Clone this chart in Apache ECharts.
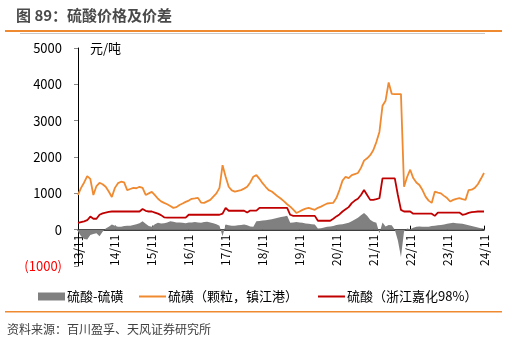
<!DOCTYPE html>
<html>
<head>
<meta charset="utf-8">
<script src="https://cdn.jsdelivr.net/npm/echarts@6/dist/echarts.min.js"></script>
<style>
html, body { margin: 0; padding: 0; background: #fff; }
#main { width: 508px; height: 354px; }
</style>
</head>
<body>
<div id="main"></div>
<script>
// 月度数据 2013/11 - 2024/11
var startYear = 2013, startMonth = 11, monthCount = 133;

// 硫磺（颗粒，镇江港） 元/吨
var sulfur = [
    955, 1150, 1300, 1475, 1400, 955, 1200, 1290, 1250, 1180, 1050, 900,
    1150, 1280, 1320, 1300, 1090, 1120, 1150, 1140, 1180, 1150, 955, 1000,
    1040, 950, 850, 780, 737, 700, 650, 600, 620, 680, 720, 765,
    800, 850, 860, 875, 745, 737, 780, 820, 910, 1000, 1150, 1775,
    1455, 1180, 1080, 1045, 1070, 1090, 1130, 1180, 1300, 1455, 1500, 1400,
    1280, 1180, 1090, 1050, 980, 910, 850, 780, 700, 635, 550, 460,
    500, 545, 580, 600, 570, 545, 600, 635, 680, 720, 730, 740,
    870, 1090, 1350, 1455, 1420, 1500, 1530, 1560, 1700, 1900, 1965, 2050,
    2185, 2410, 2690, 3410, 3550, 4050, 3740, 3730, 3730, 3730, 1180, 1450,
    1650, 1420, 1300, 1230, 1090, 910, 800, 737, 1045, 1020, 1000, 930,
    870, 775, 820, 850, 870, 840, 820, 1090, 1100, 1150, 1250, 1400,
    1560
];

// 硫酸（浙江嘉化98%） 元/吨
var acid = [
    190, 210, 230, 260, 360, 300, 300, 410, 450, 470, 490, 500,
    500, 500, 500, 500, 500, 500, 500, 500, 500, 570, 520, 500,
    500, 470, 440, 400, 340, 330, 330, 330, 330, 330, 330, 330,
    410, 410, 410, 410, 410, 410, 410, 410, 410, 410, 410, 440,
    600, 520, 520, 520, 520, 520, 520, 470, 525, 525, 525, 600,
    600, 600, 600, 600, 600, 600, 600, 600, 600, 410, 380, 380,
    380, 380, 380, 380, 380, 380, 245, 245, 245, 245, 245, 300,
    365, 420, 500, 560, 620, 730, 800, 850, 955, 1090, 955, 820,
    820, 840, 865, 1410, 1410, 1410, 1410, 1410, 955, 545, 500, 500,
    500, 440, 440, 440, 440, 440, 440, 440, 380, 470, 470, 470,
    470, 470, 470, 470, 470, 410, 430, 460, 480, 490, 500, 500,
    500
];

// 硫酸-硫磺 价差
var spread = [
    -50, -180, -260, -270, -150, -120, -100, -180, -60, 30, 80, 140,
    110, 80, 80, 100, 110, 110, 130, 150, 180, 230, 160, 100,
    80, 150, 190, 170, 180, 200, 230, 220, 200, 200, 190, 180,
    200, 200, 210, 200, 190, 210, 220, 200, 180, 150, 110, -180,
    140, 120, 110, 110, 120, 130, 140, 120, 90, 80, 230, 240,
    250, 260, 270, 290, 310, 330, 350, 360, 380, 190, 200, 210,
    200, 190, 170, 160, 150, 140, 30, 40, 60, 80, 90, 100,
    130, 140, 150, 170, 190, 230, 280, 330, 400, 460, 380, 270,
    220, 190, -100, 200, 90, 130, 120, 0, -300, -750, -50, 30,
    10, 50, 80, 90, 80, 80, 80, 100, 110, 120, 130, 140,
    160, 180, 190, 180, 170, 160, 140, 120, 100, 80, 60, 40,
    30
];

var seriesNames = ['硫酸-硫磺', '硫磺（颗粒，镇江港）', '硫酸（浙江嘉化98%）'];
var yTicks = { min: -1000, max: 5000, interval: 1000 };

var months = [];
for (var i = 0; i < monthCount; i++) {
    var m = (startMonth - 1 + i) % 12 + 1;
    var y = startYear + Math.floor((startMonth - 1 + i) / 12);
    months.push(String(y).slice(2) + '/' + (m < 10 ? '0' + m : m));
}

var font = '"Noto Sans CJK SC", "Noto Sans", sans-serif';
var gridTop = 48, gridBottom = 88, plotH = 354 - gridTop - gridBottom;
// 零轴距离底部的像素（-1000 到 0 占 1/6）
var zeroOffset = plotH * (0 - yTicks.min) / (yTicks.max - yTicks.min);

var chart = echarts.init(document.getElementById('main'));
chart.setOption({
    animation: false,
    textStyle: { fontFamily: font },
    grid: { left: 78, right: 24, top: gridTop, bottom: gridBottom, containLabel: false },
    graphic: [
        { type: 'text', x: 16, y: 15, style: { text: '图 89：硫酸价格及价差', font: 'bold 15px ' + font, fill: '#4a4a4a', textVerticalAlign: 'middle' } },
        { type: 'rect', shape: { x: 5, y: 30, width: 497, height: 2 }, style: { fill: '#F08A30' } },
        { type: 'rect', shape: { x: 20, y: 33, width: 465, height: 1 }, style: { fill: '#c8c8c8' } },
        { type: 'text', x: 90, y: 48, style: { text: '元/吨', font: '13px ' + font, fill: '#000', textVerticalAlign: 'middle' } },
        { type: 'rect', shape: { x: 5, y: 311, width: 497, height: 1.5 }, style: { fill: '#F08A30' } },
        { type: 'text', x: 7, y: 329, style: { text: '资料来源：百川盈孚、天风证券研究所', font: '12px ' + font, fill: '#404040', textVerticalAlign: 'middle' } }
    ],
    legend: [
        {
            data: [{ name: seriesNames[0], icon: 'rect' }],
            left: 33, top: 285,
            itemWidth: 27, itemHeight: 8,
            textStyle: { fontSize: 13, color: '#000', padding: [0, 0, 0, -3] }
        },
        {
            data: [{ name: seriesNames[1], icon: 'rect' }, { name: seriesNames[2], icon: 'rect' }],
            left: 134, top: 285,
            itemWidth: 27, itemHeight: 2, itemGap: 20,
            textStyle: { fontSize: 13, color: '#000', padding: [0, 0, 0, -3] }
        }
    ],
    xAxis: {
        type: 'category',
        data: months,
        boundaryGap: false,
        offset: -zeroOffset,
        axisLine: { onZero: false, lineStyle: { color: '#000', width: 1.5 } },
        axisTick: { inside: true, length: 4, interval: 11, lineStyle: { color: '#000' } },
        axisLabel: {
            interval: 11,
            rotate: 90,
            margin: 5,
            fontSize: 12,
            color: '#000',
            formatter: function (v) {
                return v.slice(0, 2) + '/' + String(startMonth);
            }
        },
        splitLine: { show: false }
    },
    yAxis: {
        type: 'value',
        min: yTicks.min,
        max: yTicks.max,
        interval: yTicks.interval,
        axisLine: { show: true, lineStyle: { color: '#000', width: 1 } },
        axisTick: { show: true, length: 4, lineStyle: { color: '#888' } },
        splitLine: { show: false },
        axisLabel: {
            fontSize: 13,
            margin: 16,
            color: '#000',
            formatter: function (v) {
                return v < 0 ? '{neg|(' + (-v) + ')}' : String(v);
            },
            rich: { neg: { color: '#ff0000', fontSize: 13 } }
        }
    },
    series: [
        {
            name: seriesNames[0],
            type: 'line',
            data: spread,
            symbol: 'none',
            lineStyle: { width: 0 },
            itemStyle: { color: '#808080' },
            areaStyle: { color: '#808080', opacity: 1 },
            z: 1
        },
        {
            name: seriesNames[1],
            type: 'line',
            data: sulfur,
            symbol: 'none',
            lineStyle: { width: 1.8, color: '#F08A30' },
            itemStyle: { color: '#F08A30' },
            z: 3
        },
        {
            name: seriesNames[2],
            type: 'line',
            data: acid,
            symbol: 'none',
            lineStyle: { width: 1.8, color: '#C00000' },
            itemStyle: { color: '#C00000' },
            z: 2
        }
    ]
});
</script>
</body>
</html>
